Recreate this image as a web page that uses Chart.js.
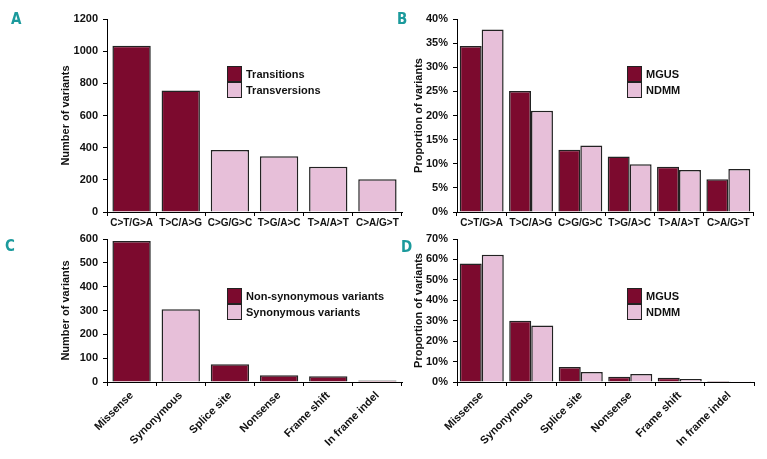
<!DOCTYPE html>
<html>
<head>
<meta charset="utf-8">
<script src="https://cdn.jsdelivr.net/npm/chart.js@4.4.0/dist/chart.umd.min.js"></script>
<style>
    body { margin: 0; background: #fff; }
    #wrap { position: relative; width: 767px; height: 459px; font-family: 'Liberation Sans', Arial, sans-serif; }
    canvas { position: absolute; }
    .panel-letter { position: absolute; color: #1b9a9c; font: bold 15px 'Liberation Sans Narrow', 'DejaVu Sans Condensed', sans-serif; }
    .legend { position: absolute; font: bold 11px 'Liberation Sans', Arial, sans-serif; color: #111; }
    .legend-row { display: flex; align-items: center; height: 16px; margin-bottom: 0; }
    .legend-box { width: 13px; height: 14px; border: 1px solid #222; margin-right: 4px; }
</style>
</head>
<body>
<div id="wrap">
    <canvas id="chart-a" width="410" height="232" style="left:0;top:0"></canvas>
    <canvas id="chart-b" width="377" height="232" style="left:390px;top:0"></canvas>
    <canvas id="chart-c" width="410" height="232" style="left:0;top:227px"></canvas>
    <canvas id="chart-d" width="377" height="232" style="left:390px;top:227px"></canvas>

    <div class="panel-letter" style="left:11px;top:10px">A</div>
    <div class="panel-letter" style="left:397px;top:10px">B</div>
    <div class="panel-letter" style="left:5px;top:237px">C</div>
    <div class="panel-letter" style="left:401px;top:238px">D</div>

    <div class="legend" id="legend-a" style="left:227px;top:66px"></div>
    <div class="legend" id="legend-b" style="left:627px;top:66px"></div>
    <div class="legend" id="legend-c" style="left:227px;top:288px"></div>
    <div class="legend" id="legend-d" style="left:627px;top:288px"></div>
</div>
<script>
// Veriler
const substitutions = ['C>T/G>A', 'T>C/A>G', 'C>G/G>C', 'T>G/A>C', 'T>A/A>T', 'C>A/G>T'];
const substitutionCounts = [1034, 755, 386, 346, 282, 204];
const substitutionIsTransition = [true, true, false, false, false, false];
const substitutionMgus = [34.4, 25.1, 12.9, 11.5, 9.4, 6.8];
const substitutionNdmm = [37.8, 21.0, 13.8, 9.9, 8.7, 8.9];

const consequences = ['Missense', 'Synonymous', 'Splice site', 'Nonsense', 'Frame shift', 'In frame indel'];
const consequenceCounts = [592, 305, 74, 28, 24, 6];
const consequenceIsNonSyn = [true, false, true, true, true, true];
const consequenceMgus = [58.0, 30.0, 7.3, 2.6, 2.1, 0.5];
const consequenceNdmm = [62.3, 27.6, 4.9, 3.9, 1.5, 0.4];

const countTicksA = { max: 1200, step: 200 };
const pctTicksB = { max: 40, step: 5 };
const countTicksC = { max: 600, step: 100 };
const pctTicksD = { max: 70, step: 10 };

const MAROON = '#7c0a2e';
const PINK = '#e7bfd9';
const EDGE = '#222';

function buildLegend(id, items) {
    document.getElementById(id).innerHTML = items.map(it => `
        <div class="legend-row"><div class="legend-box" style="background:${it.color}"></div>${it.label}</div>
    `).join('');
}

function axisOptions(cfg) {
    const tickFont = { family: "'Liberation Sans', Arial, sans-serif", weight: 'bold', size: 11 };
    return {
        x: {
            grid: { drawOnChartArea: false, drawTicks: true, tickLength: 4, color: '#000', offset: true },
            border: { display: true, color: '#000', width: 1 },
            ticks: {
                color: '#111',
                font: { ...tickFont, size: cfg.rotate ? 11 : 10 },
                padding: cfg.rotate ? 3 : 1,
                autoSkip: false,
                minRotation: cfg.rotate ? 45 : 0,
                maxRotation: cfg.rotate ? 45 : 0
            },
            afterFit: scale => { scale.height = cfg.xHeight; }
        },
        y: {
            min: 0,
            max: cfg.max,
            grid: { drawOnChartArea: false, drawTicks: true, tickLength: 4, color: '#000' },
            border: { display: true, color: '#000', width: 1 },
            ticks: {
                stepSize: cfg.step,
                color: '#111',
                font: tickFont,
                padding: 5,
                callback: v => cfg.percent ? v + '%' : v
            },
            title: {
                display: true,
                text: cfg.title,
                color: '#111',
                font: tickFont,
                padding: { top: 4, bottom: 4 }
            },
            afterFit: scale => { scale.width = cfg.yWidth; }
        }
    };
}

function createChart(canvasId, labels, datasets, cfg) {
    const ctx = document.getElementById(canvasId);
    return new Chart(ctx, {
        type: 'bar',
        data: { labels: labels, datasets: datasets },
        options: {
            responsive: false,
            animation: false,
            devicePixelRatio: 1,
            layout: { padding: cfg.padding },
            plugins: { legend: { display: false }, tooltip: { enabled: false } },
            scales: axisOptions(cfg)
        }
    });
}

// A - sayılar
createChart('chart-a', substitutions, [{
    data: substitutionCounts,
    backgroundColor: substitutionIsTransition.map(t => t ? MAROON : PINK),
    borderColor: EDGE,
    borderWidth: 1.5,
    categoryPercentage: 0.78,
    barPercentage: 1
}], { max: countTicksA.max, step: countTicksA.step, title: 'Number of variants',
      padding: { left: 55, top: 19, right: 8, bottom: 0 }, yWidth: 52, xHeight: 20 });

// B - oranlar
createChart('chart-b', substitutions, [
    { label: 'MGUS', data: substitutionMgus, backgroundColor: MAROON, borderColor: EDGE, borderWidth: 1.5, categoryPercentage: 0.89, barPercentage: 1 },
    { label: 'NDMM', data: substitutionNdmm, backgroundColor: PINK, borderColor: EDGE, borderWidth: 1.5, categoryPercentage: 0.89, barPercentage: 1 }
], { max: pctTicksB.max, step: pctTicksB.step, title: 'Proportion of variants', percent: true,
     padding: { left: 18, top: 19, right: 14, bottom: 0 }, yWidth: 49, xHeight: 20 });

// C - sayılar
createChart('chart-c', consequences, [{
    data: consequenceCounts,
    backgroundColor: consequenceIsNonSyn.map(t => t ? MAROON : PINK),
    borderColor: EDGE,
    borderWidth: 1.5,
    categoryPercentage: 0.78,
    barPercentage: 1
}], { max: countTicksC.max, step: countTicksC.step, title: 'Number of variants', rotate: true,
      padding: { left: 55, top: 12, right: 8, bottom: 0 }, yWidth: 52, xHeight: 77 });

// D - oranlar
createChart('chart-d', consequences, [
    { label: 'MGUS', data: consequenceMgus, backgroundColor: MAROON, borderColor: EDGE, borderWidth: 1.5, categoryPercentage: 0.89, barPercentage: 1 },
    { label: 'NDMM', data: consequenceNdmm, backgroundColor: PINK, borderColor: EDGE, borderWidth: 1.5, categoryPercentage: 0.89, barPercentage: 1 }
], { max: pctTicksD.max, step: pctTicksD.step, title: 'Proportion of variants', percent: true, rotate: true,
     padding: { left: 18, top: 12, right: 13, bottom: 0 }, yWidth: 49, xHeight: 77 });

buildLegend('legend-a', [{ label: 'Transitions', color: MAROON }, { label: 'Transversions', color: PINK }]);
buildLegend('legend-b', [{ label: 'MGUS', color: MAROON }, { label: 'NDMM', color: PINK }]);
buildLegend('legend-c', [{ label: 'Non-synonymous variants', color: MAROON }, { label: 'Synonymous variants', color: PINK }]);
buildLegend('legend-d', [{ label: 'MGUS', color: MAROON }, { label: 'NDMM', color: PINK }]);
</script>
</body>
</html>
